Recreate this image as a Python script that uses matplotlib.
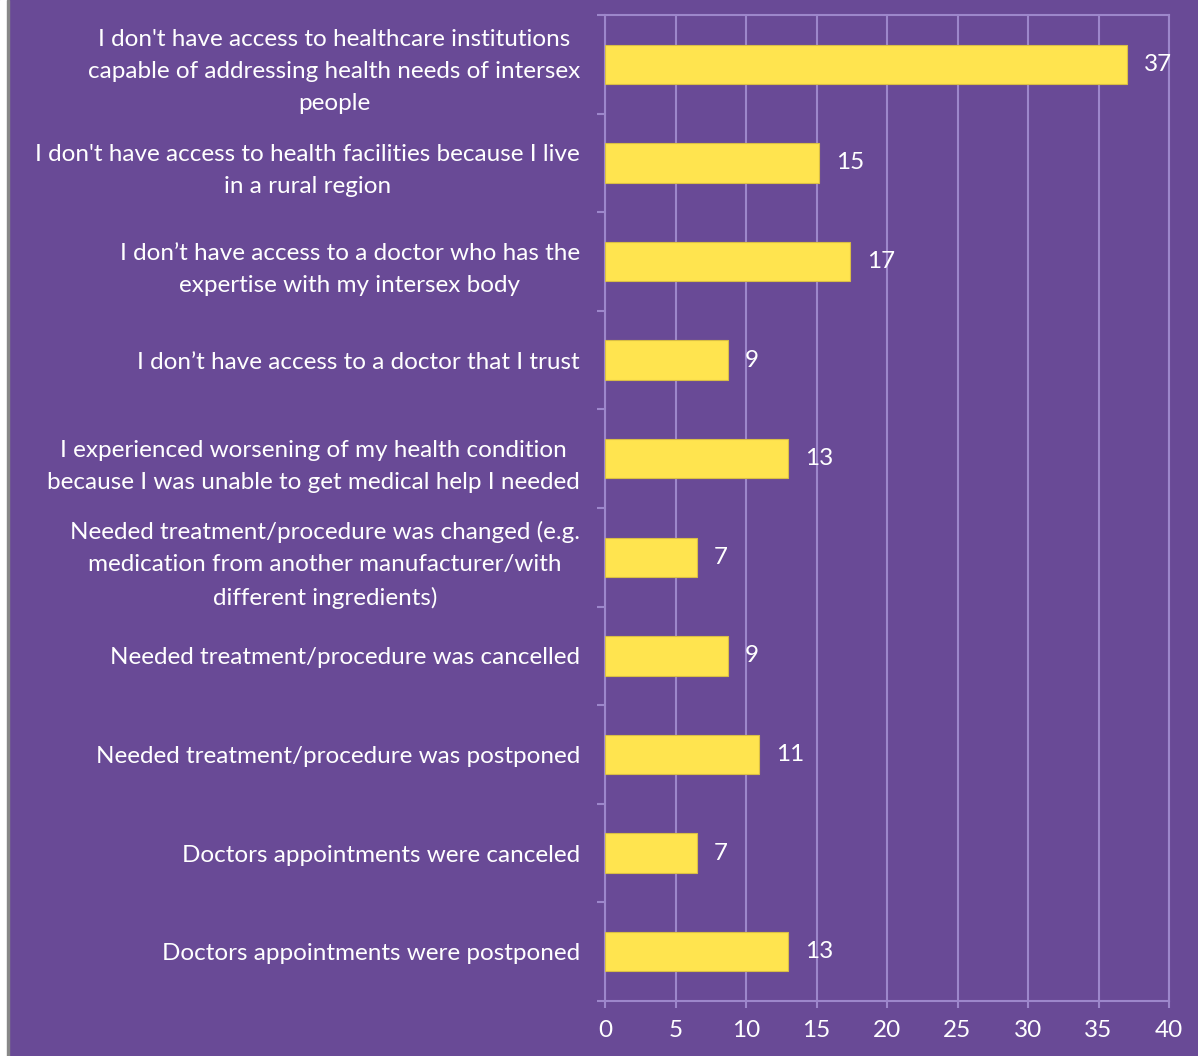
import matplotlib.pyplot as plt
from matplotlib.patches import Rectangle

categories = [
    "I don't have access to healthcare institutions\ncapable of addressing health needs of intersex\npeople",
    "I don't have access to health facilities because I live\nin a rural region",
    "I don\u2019t have access to a doctor who has the\nexpertise with my intersex body",
    "I don\u2019t have access to a doctor that I trust",
    "I experienced worsening of my health condition\nbecause I was unable to get medical help I needed",
    "Needed treatment/procedure was changed (e.g.\nmedication from another manufacturer/with\ndifferent ingredients)",
    "Needed treatment/procedure was cancelled",
    "Needed treatment/procedure was postponed",
    "Doctors appointments were canceled",
    "Doctors appointments were postponed",
]
# bar lengths as drawn (percent), and the rounded labels shown next to them
values = [37.0, 15.2, 17.4, 8.7, 13.0, 6.5, 8.7, 10.9, 6.5, 13.0]
value_labels = ['37', '15', '17', '9', '13', '7', '9', '11', '7', '13']
xticks = [0, 5, 10, 15, 20, 25, 30, 35, 40]

BG = '#694A96'
BAR = '#FFE44F'
GRID = '#9D87CB'
FONT = 'Lato'
FS = 17.5

fig = plt.figure(figsize=(11.98, 10.56), dpi=100)
fig.patch.set_facecolor(BG)
# white strip and grey edge on the left
fig.patches.append(Rectangle((0, 0), 7 / 1198, 1, transform=fig.transFigure, color='white', zorder=0))
fig.patches.append(Rectangle((7 / 1198, 0), 2 / 1198, 1, transform=fig.transFigure, color='#888888', zorder=0))

ax = fig.add_axes([605 / 1198, 1 - 1001 / 1056, (1169 - 605) / 1198, (1001 - 15) / 1056])
ax.set_facecolor(BG)

ypos = list(range(len(values)))
ax.barh(ypos, values, height=0.4, color=BAR, edgecolor='#D9BE45', linewidth=0.8, zorder=3)
for y, v, lab in zip(ypos, values, value_labels):
    ax.text(v + 1.2, y, lab, color='white', fontsize=FS, family=FONT, va='center', ha='left', zorder=4)

ax.set_xlim(0, 40)
ax.set_ylim(len(values) - 0.5, -0.5)
ax.set_xticks(xticks)
ax.set_xticklabels([str(t) for t in xticks], color='white', fontsize=FS, family=FONT)
ax.grid(axis='x', color=GRID, linewidth=1.5, zorder=0)
ax.set_axisbelow(True)

ax.set_yticks(ypos)
ax.set_yticklabels(categories, color='white', fontsize=FS, family=FONT,
                   multialignment='center', linespacing=1.65)
ax.set_yticks([i - 0.5 for i in range(len(values) + 1)], minor=True)
ax.tick_params(axis='y', which='major', length=0, pad=25 * 0.72)
ax.tick_params(axis='y', which='minor', length=6, color=GRID, width=1.5)
ax.tick_params(axis='x', length=5, color=GRID, width=1.5, pad=9)

for s in ax.spines.values():
    s.set_color(GRID)
    s.set_linewidth(1.5)

fig.savefig('out.png', dpi=100, facecolor=BG)
